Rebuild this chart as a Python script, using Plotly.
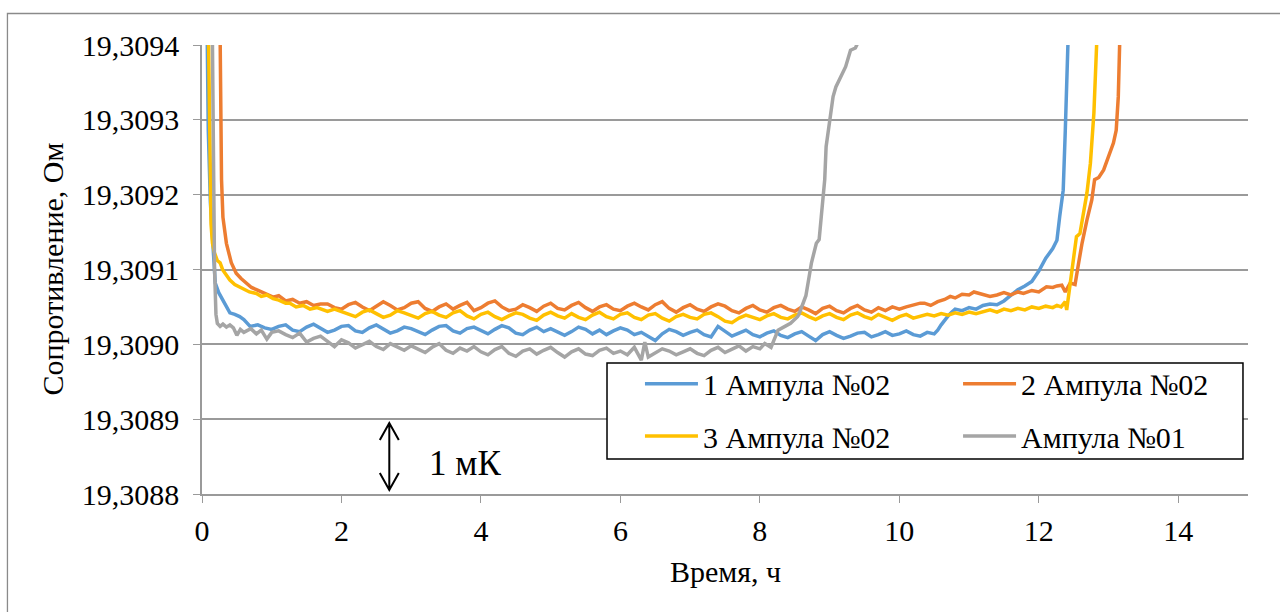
import plotly.graph_objects as go

# ---- measured series: time, h / resistance, Ohm ----
time_1 = [0.07, 0.09, 0.12, 0.14, 0.17, 0.19, 0.24, 0.30, 0.35, 0.40, 0.47, 0.54, 0.60, 0.69, 0.80, 0.90,
          1.0, 1.1, 1.2, 1.3, 1.4, 1.5, 1.6, 1.7, 1.8, 1.9,
          2.0, 2.1, 2.2, 2.3, 2.4, 2.5, 2.6, 2.7, 2.8, 2.9,
          3.0, 3.1, 3.2, 3.3, 3.4, 3.5, 3.6, 3.7, 3.8, 3.9,
          4.0, 4.1, 4.2, 4.3, 4.4, 4.5, 4.6, 4.7, 4.8, 4.9,
          5.0, 5.1, 5.2, 5.3, 5.4, 5.5, 5.6, 5.7, 5.8, 5.9,
          6.0, 6.1, 6.2, 6.3, 6.4, 6.5, 6.6, 6.7, 6.8, 6.9,
          7.0, 7.1, 7.2, 7.3, 7.4, 7.5, 7.6, 7.7, 7.8, 7.9,
          8.0, 8.1, 8.2, 8.3, 8.4, 8.5, 8.6, 8.7, 8.8, 8.9,
          9.0, 9.1, 9.2, 9.3, 9.4, 9.5, 9.6, 9.7, 9.8, 9.9,
          10.0, 10.1, 10.2, 10.3, 10.4, 10.5,
          10.55, 10.6, 10.65, 10.7, 10.75, 10.8, 10.9, 11.0, 11.1, 11.2, 11.3, 11.4, 11.5, 11.6,
          11.7, 11.8, 11.9, 12.0, 12.1, 12.2, 12.26, 12.3, 12.35, 12.38, 12.4, 12.42, 12.45]
res_1 = [19.309450, 19.309286, 19.309190, 19.309153, 19.309105, 19.309082, 19.309069, 19.309059,
         19.309050, 19.309042, 19.309040, 19.309037, 19.309033, 19.309024, 19.309026, 19.309022,
         19.309020, 19.309024, 19.309026, 19.309019, 19.309017, 19.309023, 19.309027, 19.309021, 19.309016, 19.309019,
         19.309024, 19.309025, 19.309018, 19.309016, 19.309022, 19.309026, 19.309020, 19.309015, 19.309018, 19.309023,
         19.309021, 19.309017, 19.309013, 19.309019, 19.309024, 19.309025, 19.309018, 19.309015, 19.309021, 19.309023,
         19.309018, 19.309014, 19.309020, 19.309025, 19.309022, 19.309015, 19.309013, 19.309019, 19.309023, 19.309017,
         19.309021, 19.309016, 19.309012, 19.309017, 19.309023, 19.309020, 19.309014, 19.309019, 19.309013, 19.309018,
         19.309022, 19.309019, 19.309013, 19.309016, 19.309011, 19.309005, 19.309014, 19.309020, 19.309017, 19.309012,
         19.309016, 19.309019, 19.309013, 19.309010, 19.309024, 19.309017, 19.309011, 19.309015, 19.309019, 19.309013,
         19.309010, 19.309015, 19.309018, 19.309012, 19.309009, 19.309014, 19.309017, 19.309011, 19.309005, 19.309013,
         19.309017, 19.309012, 19.309008, 19.309011, 19.309015, 19.309016, 19.309010, 19.309013, 19.309017, 19.309012,
         19.309014, 19.309018, 19.309013, 19.309011, 19.309016, 19.309014,
         19.309019, 19.309026, 19.309033, 19.309038, 19.309043, 19.309047, 19.309045, 19.309049, 19.309047,
         19.309052, 19.309054, 19.309053, 19.309058, 19.309066, 19.309073, 19.309078, 19.309084, 19.309098,
         19.309115, 19.309128, 19.309139, 19.309171, 19.309206, 19.309286, 19.309353, 19.309403, 19.309500]

time_2 = [0.24, 0.257, 0.27, 0.28, 0.30, 0.35, 0.42, 0.49, 0.56, 0.64, 0.71, 0.78, 0.90, 1.02,
          1.1, 1.2, 1.3, 1.4, 1.5, 1.6, 1.7, 1.8, 1.9,
          2.0, 2.1, 2.2, 2.3, 2.4, 2.5, 2.6, 2.7, 2.8, 2.9,
          3.0, 3.1, 3.2, 3.3, 3.4, 3.5, 3.6, 3.7, 3.8, 3.9,
          4.0, 4.1, 4.2, 4.3, 4.4, 4.5, 4.6, 4.7, 4.8, 4.9,
          5.0, 5.1, 5.2, 5.3, 5.4, 5.5, 5.6, 5.7, 5.8, 5.9,
          6.0, 6.1, 6.2, 6.3, 6.4, 6.5, 6.6, 6.7, 6.8, 6.9,
          7.0, 7.1, 7.2, 7.3, 7.4, 7.5, 7.6, 7.7, 7.8, 7.9,
          8.0, 8.1, 8.2, 8.3, 8.4, 8.5, 8.6, 8.7, 8.8, 8.9,
          9.0, 9.1, 9.2, 9.3, 9.4, 9.5, 9.6, 9.7, 9.8, 9.9,
          10.0, 10.1, 10.2, 10.3,
          10.36, 10.45, 10.55, 10.65, 10.73, 10.8, 10.9, 11.0, 11.07, 11.15, 11.3, 11.4, 11.5, 11.6,
          11.7, 11.78, 11.9, 12.0, 12.11, 12.2, 12.26, 12.33, 12.38, 12.45, 12.52, 12.57, 12.62,
          12.69, 12.76, 12.8, 12.86, 12.93, 13.0, 13.07, 13.11, 13.14, 13.16, 13.19]
res_2 = [19.309600, 19.309400, 19.309300, 19.309220, 19.309170, 19.309135, 19.309109, 19.309095,
         19.309088, 19.309082, 19.309076, 19.309073, 19.309068, 19.309063,
         19.309065, 19.309058, 19.309060, 19.309055, 19.309057, 19.309052, 19.309054, 19.309054, 19.309049,
         19.309047, 19.309053, 19.309056, 19.309050, 19.309045, 19.309051, 19.309057, 19.309052, 19.309046, 19.309049,
         19.309055, 19.309057, 19.309048, 19.309044, 19.309050, 19.309054, 19.309047, 19.309052, 19.309056, 19.309045,
         19.309049, 19.309055, 19.309058, 19.309050, 19.309045, 19.309047, 19.309053, 19.309049, 19.309044, 19.309051,
         19.309055, 19.309048, 19.309046, 19.309052, 19.309056, 19.309049, 19.309044, 19.309050, 19.309053, 19.309047,
         19.309045, 19.309051, 19.309055, 19.309050, 19.309046, 19.309053, 19.309057, 19.309048, 19.309043, 19.309049,
         19.309053, 19.309047, 19.309044, 19.309050, 19.309054, 19.309051, 19.309045, 19.309042, 19.309048, 19.309052,
         19.309046, 19.309043, 19.309049, 19.309052, 19.309047, 19.309044, 19.309050, 19.309046, 19.309041, 19.309048,
         19.309051, 19.309045, 19.309042, 19.309048, 19.309052, 19.309046, 19.309043, 19.309049, 19.309045, 19.309050,
         19.309047, 19.309050, 19.309053, 19.309055,
         19.309055, 19.309052, 19.309057, 19.309060, 19.309064, 19.309062, 19.309067, 19.309066, 19.309070,
         19.309068, 19.309064, 19.309066, 19.309069, 19.309066, 19.309070, 19.309068, 19.309072, 19.309070,
         19.309077, 19.309076, 19.309078, 19.309079, 19.309070, 19.309082, 19.309080, 19.309108, 19.309135,
         19.309166, 19.309193, 19.309220, 19.309223, 19.309233, 19.309251, 19.309269, 19.309286, 19.309331,
         19.309403, 19.309480]

time_3 = [0.08, 0.10, 0.12, 0.13, 0.15, 0.18, 0.22, 0.26, 0.30, 0.35, 0.40, 0.47, 0.54, 0.60, 0.68,
          0.78, 0.85, 0.93, 1.02, 1.1, 1.2, 1.26, 1.35, 1.45, 1.55, 1.65, 1.73, 1.8, 1.9,
          2.0, 2.1, 2.2, 2.3, 2.4, 2.5, 2.6, 2.7, 2.8, 2.9,
          3.0, 3.1, 3.2, 3.3, 3.4, 3.5, 3.6, 3.7, 3.8, 3.9,
          4.0, 4.1, 4.2, 4.3, 4.4, 4.5, 4.6, 4.7, 4.8, 4.9,
          5.0, 5.1, 5.2, 5.3, 5.4, 5.5, 5.6, 5.7, 5.8, 5.9,
          6.0, 6.1, 6.2, 6.3, 6.4, 6.5, 6.6, 6.7, 6.8, 6.9,
          7.0, 7.1, 7.2, 7.3, 7.4, 7.5, 7.6, 7.7, 7.8, 7.9,
          8.0, 8.1, 8.2, 8.3, 8.4, 8.5, 8.6, 8.7, 8.8, 8.9,
          9.0, 9.1, 9.2, 9.3, 9.4, 9.5, 9.6, 9.7, 9.8, 9.9,
          10.0, 10.1, 10.2, 10.3,
          10.4, 10.5, 10.6, 10.7, 10.8, 10.9, 11.0, 11.1, 11.2, 11.3, 11.4, 11.5, 11.6, 11.7, 11.8,
          11.9, 12.0, 12.1, 12.2, 12.26, 12.32, 12.38, 12.4, 12.45, 12.5, 12.54, 12.59, 12.64, 12.69,
          12.74, 12.79, 12.83, 12.86]
res_3 = [19.309500, 19.309350, 19.309230, 19.309160, 19.309135, 19.309122, 19.309112, 19.309109,
         19.309099, 19.309092, 19.309086, 19.309080, 19.309077, 19.309074, 19.309070, 19.309068,
         19.309064, 19.309066, 19.309061, 19.309059, 19.309055, 19.309055, 19.309050, 19.309052,
         19.309047, 19.309049, 19.309046, 19.309044, 19.309047,
         19.309044, 19.309040, 19.309037, 19.309043, 19.309046, 19.309041, 19.309036, 19.309039, 19.309045, 19.309042,
         19.309038, 19.309035, 19.309041, 19.309044, 19.309039, 19.309036, 19.309042, 19.309045, 19.309038, 19.309034,
         19.309040, 19.309043, 19.309037, 19.309033, 19.309038, 19.309042, 19.309040, 19.309035, 19.309032, 19.309039,
         19.309043, 19.309038, 19.309035, 19.309041, 19.309036, 19.309033, 19.309039, 19.309043, 19.309037, 19.309034,
         19.309040, 19.309042, 19.309036, 19.309033, 19.309039, 19.309041, 19.309035, 19.309031, 19.309037, 19.309040,
         19.309036, 19.309034, 19.309040, 19.309042, 19.309037, 19.309031, 19.309029, 19.309035, 19.309039, 19.309036,
         19.309033, 19.309038, 19.309041, 19.309036, 19.309034, 19.309039, 19.309042, 19.309037, 19.309033, 19.309038,
         19.309041, 19.309036, 19.309033, 19.309039, 19.309042, 19.309037, 19.309034, 19.309040, 19.309036, 19.309032,
         19.309037, 19.309040, 19.309035, 19.309038,
         19.309040, 19.309038, 19.309041, 19.309039, 19.309042, 19.309040, 19.309043, 19.309041, 19.309044,
         19.309046, 19.309043, 19.309047, 19.309045, 19.309048, 19.309046, 19.309050, 19.309048, 19.309051,
         19.309049, 19.309052, 19.309050, 19.309057, 19.309046, 19.309082, 19.309117, 19.309144, 19.309148,
         19.309175, 19.309202, 19.309242, 19.309309, 19.309402, 19.309470]

time_4 = [0.14, 0.16, 0.18, 0.20, 0.22, 0.26, 0.30, 0.35, 0.40, 0.45, 0.50, 0.55, 0.60, 0.70, 0.78,
          0.85, 0.93, 1.0,
          1.1, 1.2, 1.3, 1.4, 1.5, 1.6, 1.7, 1.8, 1.9,
          2.0, 2.1, 2.2, 2.3, 2.4, 2.5, 2.6, 2.7, 2.8, 2.9,
          3.0, 3.1, 3.2, 3.3, 3.4, 3.5, 3.6, 3.7, 3.8, 3.9,
          4.0, 4.1, 4.2, 4.3, 4.4, 4.5, 4.6, 4.7, 4.8, 4.9,
          5.0, 5.1, 5.2, 5.3, 5.4, 5.5, 5.6, 5.7, 5.8, 5.9,
          6.0, 6.1, 6.2, 6.3, 6.35, 6.4, 6.5, 6.6, 6.7, 6.8, 6.9,
          7.0, 7.1, 7.2, 7.3, 7.4, 7.5, 7.6, 7.7, 7.8, 7.9,
          8.0, 8.07, 8.16, 8.26, 8.36, 8.44, 8.54, 8.56, 8.66, 8.74, 8.81, 8.85, 8.88, 8.93,
          8.95, 9.0, 9.05, 9.09, 9.16, 9.23, 9.3, 9.37, 9.4, 9.5]
res_4 = [19.309500, 19.309300, 19.309100, 19.309040, 19.309028, 19.309024, 19.309027, 19.309023,
         19.309026, 19.309022, 19.309012, 19.309020, 19.309016, 19.309021, 19.309014, 19.309019,
         19.309007, 19.309016,
         19.309018, 19.309013, 19.309009, 19.309015, 19.309003, 19.309008, 19.309011, 19.309004, 19.308997,
         19.309006, 19.309002, 19.308995, 19.308999, 19.309004, 19.308997, 19.308993, 19.309001, 19.308996, 19.308992,
         19.308998, 19.308994, 19.308989, 19.308996, 19.309001, 19.308992, 19.308988, 19.308995, 19.308991, 19.308997,
         19.308990, 19.308986, 19.308993, 19.308997, 19.308988, 19.308984, 19.308991, 19.308994, 19.308987, 19.308992,
         19.308996, 19.308989, 19.308983, 19.308990, 19.308994, 19.308987, 19.308985, 19.308992, 19.308995, 19.308988,
         19.308991, 19.308986, 19.308996, 19.308979, 19.309003, 19.308983, 19.308989, 19.308994, 19.308991,
         19.308986, 19.308990,
         19.308994, 19.308988, 19.308985, 19.308992, 19.308996, 19.308989, 19.308993, 19.308998, 19.308991, 19.308997,
         19.308994, 19.309001, 19.308996, 19.309019, 19.309024, 19.309028, 19.309037, 19.309040, 19.309065,
         19.309109, 19.309135, 19.309140, 19.309170, 19.309220, 19.309264, 19.309296, 19.309331, 19.309344,
         19.309357, 19.309371, 19.309393, 19.309396, 19.309402, 19.309440]

series_names = ["1 Ампула №02", "2 Ампула №02", "3 Ампула №02", "Ампула №01"]
series_colors = ["#5B9BD5", "#ED7D31", "#FFC000", "#A5A5A5"]
series_time = [time_1, time_2, time_3, time_4]
series_res = [res_1, res_2, res_3, res_4]

x_ticks = [0, 2, 4, 6, 8, 10, 12, 14]
y_ticks = [19.3088, 19.3089, 19.3090, 19.3091, 19.3092, 19.3093, 19.3094]
y_tick_labels = ["19,3088", "19,3089", "19,3090", "19,3091", "19,3092", "19,3093", "19,3094"]

FONT = "Liberation Serif"
FS = 30
GRID = "#9A9A9A"

# one legend per entry so the 2x2 arrangement sits inside the framed box
legend_ids = ["legend", "legend2", "legend3", "legend4"]
legend_pos = [(0.4187, 0.2455), (0.7228, 0.2455), (0.4187, 0.129), (0.7228, 0.129)]

fig = go.Figure()
for name, t, r, c, lid in zip(series_names, series_time, series_res, series_colors, legend_ids):
    fig.add_trace(go.Scatter(x=t, y=r, mode="lines", name=name, legend=lid,
                             line=dict(color=c, width=3.5), hoverinfo="skip"))

legend_layout = {}
for lid, (lx, ly) in zip(legend_ids, legend_pos):
    legend_layout[lid] = dict(x=lx, y=ly, xanchor="left", yanchor="middle",
                              bgcolor="rgba(0,0,0,0)", borderwidth=0, itemwidth=53,
                              font=dict(family=FONT, size=FS, color="black"))

# double-headed scale arrow for 1 mK
ax_x = 2.686
ay_top = 19.3088949
ay_bot = 19.3088053
hw = 0.136
hh = 0.0000227
arrow_path = (f"M {ax_x},{ay_bot} L {ax_x},{ay_top} "
              f"M {ax_x - hw},{ay_top - hh} L {ax_x},{ay_top} L {ax_x + hw},{ay_top - hh} "
              f"M {ax_x - hw},{ay_bot + hh} L {ax_x},{ay_bot} L {ax_x + hw},{ay_bot + hh}")

fig.update_layout(
    width=1280, height=612,
    margin=dict(l=202, r=32, t=45, b=118),
    paper_bgcolor="white", plot_bgcolor="white",
    font=dict(family=FONT, size=FS, color="black"),
    showlegend=True,
    xaxis=dict(range=[0, 15], tickvals=x_ticks, ticks="outside", ticklen=7, tickwidth=1.3,
               tickcolor=GRID, showline=True, linecolor=GRID, linewidth=1.5,
               showgrid=False, zeroline=False, ticklabelstandoff=2,
               tickfont=dict(family=FONT, size=FS, color="black")),
    yaxis=dict(range=[19.3088, 19.3094], tickvals=y_ticks, ticktext=y_tick_labels,
               ticks="outside", ticklen=7, tickwidth=1.3, tickcolor=GRID,
               showline=True, linecolor=GRID, linewidth=1.5,
               showgrid=True, gridcolor=GRID, gridwidth=1.5, zeroline=False,
               ticklabelstandoff=8,
               tickfont=dict(family=FONT, size=FS, color="black")),
    shapes=[
        dict(type="rect", xref="paper", yref="paper", x0=-0.1860, x1=1.10, y0=-0.50, y1=1.0702,
             line=dict(color="#8A8A8A", width=1.3), fillcolor="rgba(0,0,0,0)", layer="below"),
        dict(type="rect", xref="paper", yref="paper", x0=0.3872, x1=0.9952, y0=0.0780, y1=0.2918,
             line=dict(color="black", width=1.5), fillcolor="white", layer="above"),
        dict(type="path", xref="x", yref="y", path=arrow_path,
             line=dict(color="black", width=2)),
    ],
    annotations=[
        dict(text="Сопротивление, Ом", xref="paper", yref="paper", x=-0.1434, y=0.5,
             textangle=-90, showarrow=False, xanchor="center", yanchor="middle",
             font=dict(family=FONT, size=FS, color="black")),
        dict(text="Время, ч", xref="paper", yref="paper", x=0.5, y=-0.1737,
             showarrow=False, xanchor="center", yanchor="middle",
             font=dict(family=FONT, size=FS, color="black")),
        dict(text="1 мК", xref="x", yref="y", x=3.77, y=19.3088414,
             showarrow=False, xanchor="center", yanchor="middle",
             font=dict(family=FONT, size=35, color="black")),
    ],
    **legend_layout,
)

fig.write_html("out.html")
